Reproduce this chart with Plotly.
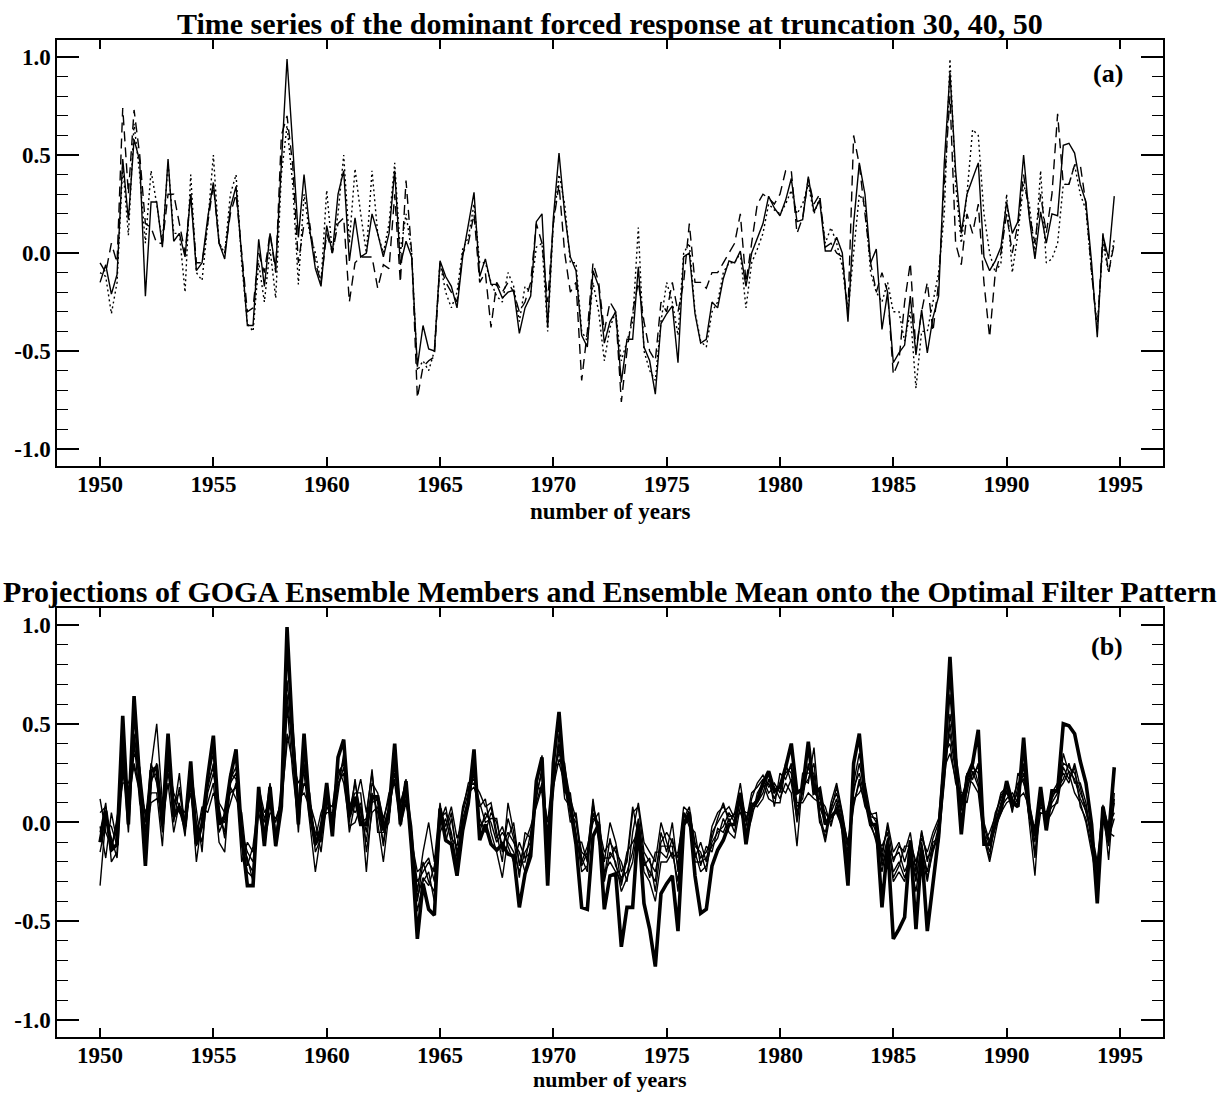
import plotly.graph_objects as go

# ---------------- data (quarterly, 1950.00 .. 1994.75) ----------------
start_year = 1950.0
n_points = 180
years = [start_year + 0.25 * i for i in range(n_points)]

# panel (a): truncation 30 (solid), 40 (dotted), 50 (dashed)
trunc_30 = [
    -0.15, -0.06, -0.21, -0.11, 0.48, 0.17, 0.58, 0.47, -0.22, 0.26,
    0.26, 0.03, 0.48, 0.06, 0.10, -0.02, 0.30, -0.09, -0.05, 0.18,
    0.36, 0.05, -0.03, 0.23, 0.34, -0.02, -0.37, -0.37, 0.07, -0.17,
    0.10, -0.08, 0.47, 0.99, 0.55, 0.08, 0.40, 0.12, -0.08, -0.17,
    0.14, 0.00, 0.30, 0.42, -0.04, 0.18, -0.02, 0.00, 0.20, 0.10,
    -0.02, 0.10, 0.42, -0.06, 0.06, -0.02, -0.58, -0.37, -0.49, -0.50,
    -0.04, -0.12, -0.17, -0.28, -0.02, 0.14, 0.31, -0.12, -0.03, -0.16,
    -0.16, -0.23, -0.20, -0.19, -0.41, -0.28, -0.22, 0.16, 0.20, -0.38,
    0.18, 0.51, 0.20, -0.02, -0.09, -0.42, -0.48, -0.09, -0.17, -0.46,
    -0.35, -0.30, -0.66, -0.44, -0.44, -0.07, -0.48, -0.55, -0.72, -0.36,
    -0.31, -0.27, -0.56, -0.02, 0.00, -0.31, -0.46, -0.44, -0.25, -0.28,
    -0.13, -0.04, -0.05, 0.01, -0.17, 0.00, 0.08, 0.15, 0.29, 0.23,
    0.19, 0.27, 0.38, 0.16, 0.17, 0.39, 0.21, 0.27, 0.01, 0.01,
    0.08, 0.00, -0.35, 0.15, 0.46, 0.30, -0.05, 0.02, -0.39, -0.20,
    -0.56, -0.51, -0.47, -0.22, -0.52, -0.29, -0.51, -0.33, -0.22, 0.46,
    0.92, 0.42, 0.10, 0.30, 0.38, 0.46, -0.02, -0.09, -0.04, 0.03,
    0.26, 0.10, 0.16, 0.50, 0.18, -0.03, 0.21, 0.05, 0.20, 0.19,
    0.55, 0.56, 0.51, 0.35, 0.26, -0.05, -0.43, 0.09, -0.03, 0.29,
]
trunc_40 = [
    -0.10, -0.12, -0.31, -0.15, 0.45, 0.09, 0.66, 0.40, 0.05, 0.42,
    0.25, 0.05, 0.46, 0.10, 0.10, -0.20, 0.40, -0.10, -0.14, 0.15,
    0.50, 0.05, 0.00, 0.30, 0.40, -0.05, -0.36, -0.40, -0.05, -0.25,
    0.02, -0.23, 0.40, 0.65, 0.35, -0.16, 0.30, 0.10, 0.00, -0.15,
    0.32, 0.00, 0.20, 0.50, 0.05, 0.43, 0.20, 0.00, 0.42, 0.10,
    0.00, 0.15, 0.46, 0.00, 0.20, 0.00, -0.60, -0.55, -0.60, -0.50,
    -0.05, -0.20, -0.28, -0.20, 0.02, 0.08, 0.25, -0.05, -0.05, -0.15,
    -0.22, -0.25, -0.10, -0.17, -0.35, -0.17, -0.20, 0.03, 0.05, -0.40,
    0.15, 0.40, 0.25, -0.05, -0.05, -0.40, -0.45, -0.15, -0.30, -0.55,
    -0.38, -0.30, -0.55, -0.45, -0.35, 0.13, -0.50, -0.60, -0.65, -0.35,
    -0.15, -0.25, -0.42, 0.00, 0.05, -0.30, -0.45, -0.48, -0.30, -0.25,
    -0.10, -0.05, -0.05, 0.00, -0.28, -0.05, 0.02, 0.10, 0.25, 0.22,
    0.20, 0.25, 0.32, 0.20, 0.25, 0.35, 0.20, 0.28, 0.05, 0.13,
    0.05, -0.07, -0.30, 0.00, 0.30, 0.25, -0.10, -0.20, -0.25, -0.15,
    -0.30, -0.30, -0.45, -0.30, -0.69, -0.40, -0.40, -0.25, -0.10, 0.20,
    0.99, 0.35, 0.05, 0.30, 0.63, 0.60, 0.20, 0.00, -0.10, -0.05,
    0.30, -0.10, 0.10, 0.35, 0.25, 0.00, 0.42, -0.05, -0.03, 0.05,
    0.35, 0.35, 0.45, 0.30, 0.22, -0.10, -0.38, 0.05, -0.10, 0.07,
]
trunc_50 = [
    -0.05, -0.10, 0.05, -0.05, 0.74, 0.30, 0.73, 0.50, 0.15, 0.13,
    0.05, 0.05, 0.30, 0.30, 0.15, 0.00, 0.30, -0.05, -0.05, 0.15,
    0.35, 0.05, 0.00, 0.20, 0.30, 0.00, -0.30, -0.28, 0.00, -0.10,
    0.10, -0.10, 0.60, 0.70, 0.45, -0.05, 0.15, 0.15, -0.05, -0.15,
    0.10, 0.00, 0.15, 0.18, -0.25, -0.05, -0.02, -0.02, -0.02, -0.18,
    -0.06, -0.08, 0.30, -0.15, 0.37, 0.00, -0.74, -0.58, -0.55, -0.53,
    -0.05, -0.15, -0.20, -0.25, 0.00, 0.05, 0.20, -0.15, -0.10, -0.38,
    -0.15, -0.20, -0.15, -0.20, -0.30, -0.25, -0.15, 0.15, 0.05, -0.25,
    0.15, 0.35, 0.00, -0.20, -0.15, -0.65, -0.40, -0.05, -0.15, -0.40,
    -0.25, -0.30, -0.76, -0.50, -0.30, -0.15, -0.35, -0.50, -0.55, -0.25,
    -0.30, -0.15, -0.30, -0.15, 0.15, -0.15, -0.15, -0.18, -0.10, -0.10,
    -0.05, 0.00, 0.05, 0.20, -0.15, 0.05, 0.25, 0.30, 0.28, 0.25,
    0.30, 0.42, 0.42, 0.10, 0.18, 0.38, 0.25, 0.30, 0.03, 0.05,
    0.00, -0.02, -0.30, 0.60, 0.45, 0.20, -0.05, -0.20, -0.10, -0.20,
    -0.62, -0.55, -0.25, -0.05, -0.50, -0.30, -0.15, -0.40, -0.15, 0.35,
    0.80, 0.05, -0.06, 0.20, 0.10, 0.25, -0.15, -0.43, -0.10, 0.00,
    0.20, 0.00, 0.15, 0.40, 0.20, 0.05, 0.30, 0.10, 0.30, 0.71,
    0.35, 0.35, 0.45, 0.45, 0.25, -0.10, -0.40, 0.10, -0.10, 0.05,
]

# panel (b): ensemble mean (thick) and ensemble members (thin)
ensemble_mean = [
    -0.10, 0.06, -0.14, -0.11, 0.54, -0.01, 0.64, 0.20, -0.22, 0.26,
    0.28, -0.01, 0.45, 0.03, 0.08, -0.02, 0.31, -0.11, -0.01, 0.23,
    0.44, -0.01, 0.03, 0.23, 0.37, -0.07, -0.32, -0.32, 0.18, -0.12,
    0.18, -0.12, 0.08, 0.99, 0.43, -0.01, 0.45, 0.06, -0.11, -0.04,
    0.20, -0.07, 0.33, 0.42, 0.03, 0.13, -0.01, -0.01, 0.13, 0.13,
    -0.04, 0.06, 0.40, -0.01, 0.21, -0.14, -0.59, -0.31, -0.44, -0.47,
    0.07, -0.09, -0.11, -0.27, -0.04, 0.10, 0.37, -0.09, -0.01, -0.11,
    -0.14, -0.11, -0.16, -0.17, -0.43, -0.26, -0.17, 0.21, 0.33, -0.32,
    0.30, 0.56, 0.20, 0.08, -0.11, -0.43, -0.44, -0.07, -0.01, -0.44,
    -0.27, -0.26, -0.63, -0.43, -0.43, -0.01, -0.41, -0.54, -0.73, -0.36,
    -0.31, -0.27, -0.55, -0.01, 0.05, -0.27, -0.46, -0.44, -0.22, -0.14,
    -0.09, -0.01, -0.01, 0.15, -0.11, 0.08, 0.11, 0.20, 0.26, 0.16,
    0.18, 0.28, 0.40, 0.15, 0.17, 0.41, 0.15, 0.17, -0.01, 0.03,
    0.06, -0.01, -0.32, 0.30, 0.45, 0.13, -0.01, -0.01, -0.43, -0.11,
    -0.59, -0.54, -0.48, -0.09, -0.54, -0.14, -0.55, -0.31, -0.07, 0.33,
    0.84, 0.33, -0.06, 0.23, 0.30, 0.47, -0.11, -0.11, -0.01, 0.06,
    0.21, 0.10, 0.08, 0.43, 0.06, -0.07, 0.18, -0.04, 0.16, 0.16,
    0.50, 0.49, 0.45, 0.31, 0.20, -0.01, -0.41, 0.08, -0.07, 0.28,
]
member_1 = [
    -0.05, 0.10, -0.20, -0.15, 0.40, 0.05, 0.45, 0.22, -0.10, 0.20,
    0.30, 0.05, 0.35, 0.10, 0.15, 0.00, 0.25, -0.05, 0.05, 0.18,
    0.30, 0.05, -0.05, 0.20, 0.25, -0.10, -0.25, -0.28, 0.10, -0.05,
    0.12, -0.08, 0.15, 0.72, 0.40, 0.10, 0.30, 0.05, -0.05, -0.10,
    0.15, 0.00, 0.25, 0.30, 0.05, 0.20, 0.05, -0.10, 0.15, 0.05,
    -0.10, 0.10, 0.30, 0.05, 0.15, -0.08, -0.40, -0.20, -0.30, -0.35,
    0.05, -0.05, 0.05, -0.18, 0.02, 0.12, 0.25, -0.05, 0.05, 0.00,
    -0.10, -0.05, -0.10, -0.15, -0.25, -0.15, -0.10, 0.15, 0.25, -0.15,
    0.20, 0.40, 0.25, 0.10, -0.05, -0.25, -0.22, 0.05, -0.05, -0.30,
    -0.15, -0.20, -0.35, -0.28, -0.20, 0.00, -0.25, -0.30, -0.40, -0.20,
    -0.20, -0.15, -0.30, 0.05, 0.00, -0.15, -0.25, -0.22, -0.10, -0.05,
    -0.02, 0.05, 0.00, 0.12, -0.05, 0.08, 0.12, 0.18, 0.20, 0.12,
    0.20, 0.25, 0.28, 0.05, 0.15, 0.28, 0.20, 0.08, 0.00, 0.05,
    0.12, 0.00, -0.20, 0.15, 0.30, 0.15, 0.02, -0.05, -0.20, -0.08,
    -0.30, -0.25, -0.30, -0.15, -0.30, -0.10, -0.28, -0.15, -0.05, 0.25,
    0.65, 0.30, 0.10, 0.20, 0.28, 0.25, -0.05, -0.15, 0.00, 0.10,
    0.15, 0.10, 0.15, 0.25, 0.05, -0.10, 0.12, 0.02, 0.10, 0.15,
    0.30, 0.28, 0.25, 0.15, 0.08, -0.10, -0.25, 0.05, -0.10, 0.10,
]
member_2 = [
    0.12, -0.05, -0.12, 0.00, 0.35, 0.15, 0.38, 0.25, -0.05, 0.28,
    0.50, 0.10, 0.25, 0.05, 0.25, -0.05, 0.20, 0.00, -0.10, 0.15,
    0.25, 0.10, 0.05, 0.15, 0.18, 0.00, -0.20, -0.25, 0.15, 0.02,
    0.08, 0.00, 0.12, 0.55, 0.48, 0.05, 0.20, 0.15, -0.12, 0.00,
    0.05, 0.05, 0.20, 0.25, -0.05, 0.10, 0.22, 0.05, 0.25, 0.00,
    -0.20, 0.05, 0.25, 0.10, 0.20, -0.12, -0.30, -0.25, -0.20, -0.25,
    0.00, 0.08, -0.08, -0.12, 0.08, 0.18, 0.20, 0.15, 0.08, 0.10,
    -0.05, -0.20, 0.10, -0.05, -0.20, -0.20, -0.05, 0.10, 0.20, -0.05,
    0.25, 0.35, 0.30, 0.05, 0.00, -0.15, -0.18, 0.12, -0.10, -0.20,
    0.00, -0.10, -0.25, -0.20, 0.05, 0.08, -0.15, -0.20, -0.25, -0.10,
    -0.05, -0.10, -0.18, 0.08, 0.05, -0.10, -0.18, -0.15, -0.08, 0.02,
    0.10, 0.00, 0.05, 0.20, 0.00, 0.15, 0.18, 0.22, 0.15, 0.18,
    0.12, 0.20, 0.15, -0.12, 0.22, 0.20, 0.38, 0.05, -0.08, 0.10,
    0.20, 0.05, -0.12, 0.10, 0.20, 0.10, 0.05, 0.00, -0.15, -0.02,
    -0.20, -0.12, -0.15, -0.05, -0.25, -0.04, -0.20, -0.08, 0.00, 0.30,
    0.45, 0.25, 0.06, 0.25, 0.22, 0.30, 0.00, -0.10, 0.05, 0.12,
    0.20, 0.05, 0.25, 0.20, 0.10, -0.05, 0.08, 0.05, 0.15, 0.20,
    0.25, 0.20, 0.30, 0.18, 0.05, -0.05, -0.20, 0.09, -0.19, 0.15,
]
member_3 = [
    -0.32, 0.02, -0.08, -0.18, 0.25, 0.10, 0.30, 0.18, 0.05, 0.15,
    0.15, -0.12, 0.30, 0.15, 0.08, 0.05, 0.18, -0.20, 0.02, 0.10,
    0.20, -0.10, -0.15, 0.22, 0.28, -0.05, -0.15, -0.20, 0.05, -0.08,
    0.15, -0.05, 0.05, 0.45, 0.30, 0.20, 0.25, 0.00, -0.25, -0.05,
    0.20, -0.05, 0.15, 0.35, 0.10, 0.05, 0.10, -0.25, 0.10, 0.12,
    0.00, 0.15, 0.20, -0.02, 0.10, -0.05, -0.35, -0.15, 0.00, -0.20,
    0.10, -0.10, 0.02, -0.15, -0.02, 0.10, 0.28, 0.02, -0.05, 0.05,
    0.00, -0.12, -0.05, -0.10, -0.15, -0.25, -0.12, 0.18, 0.34, -0.10,
    0.15, 0.45, 0.15, 0.15, -0.08, -0.20, -0.12, 0.00, 0.05, -0.25,
    -0.20, -0.25, -0.30, -0.15, -0.10, -0.05, -0.20, -0.25, -0.30, -0.05,
    -0.15, 0.00, -0.25, -0.02, 0.02, -0.20, -0.20, -0.18, -0.12, -0.08,
    0.02, -0.05, -0.08, 0.08, 0.05, 0.05, 0.10, 0.15, 0.25, 0.08,
    0.25, 0.22, 0.30, 0.10, 0.10, 0.15, 0.12, 0.10, 0.05, 0.00,
    0.08, -0.05, -0.25, 0.20, 0.35, 0.18, 0.00, -0.10, -0.25, -0.10,
    -0.25, -0.20, -0.28, -0.20, -0.35, -0.15, -0.30, -0.12, -0.10, 0.20,
    0.55, 0.35, 0.15, 0.15, 0.30, 0.20, -0.08, -0.20, -0.05, 0.08,
    0.12, 0.15, 0.10, 0.30, 0.00, -0.27, 0.15, 0.00, 0.05, 0.12,
    0.35, 0.25, 0.15, 0.10, 0.00, -0.15, -0.30, 0.00, -0.05, -0.07,
]
member_4 = [
    -0.02, -0.18, 0.05, -0.10, 0.30, -0.05, 0.42, 0.10, 0.00, 0.30,
    0.20, 0.00, 0.20, -0.05, 0.10, -0.07, 0.28, 0.05, -0.15, 0.22,
    0.35, 0.02, 0.00, 0.10, 0.20, -0.20, -0.10, -0.15, 0.08, 0.00,
    0.20, -0.10, 0.20, 0.65, 0.35, -0.05, 0.35, 0.10, 0.00, -0.15,
    0.10, 0.08, 0.28, 0.20, 0.00, 0.22, 0.00, 0.02, 0.27, -0.05,
    -0.05, 0.00, 0.35, 0.08, 0.22, -0.15, -0.45, -0.30, -0.25, -0.40,
    -0.05, 0.02, -0.10, -0.20, 0.05, 0.15, 0.18, 0.08, 0.12, -0.05,
    -0.15, -0.28, -0.08, 0.00, -0.22, -0.10, -0.02, 0.08, 0.18, 0.00,
    0.28, 0.30, 0.20, 0.00, 0.05, -0.18, -0.25, 0.08, -0.02, -0.15,
    -0.10, -0.15, -0.20, -0.30, -0.05, 0.10, -0.10, -0.15, -0.20, 0.00,
    -0.10, -0.18, -0.15, 0.02, 0.08, -0.12, -0.15, -0.25, -0.05, 0.00,
    0.05, 0.08, 0.02, 0.05, -0.02, 0.12, 0.20, 0.24, 0.18, 0.20,
    0.15, 0.30, 0.20, 0.02, 0.25, 0.25, 0.25, 0.00, -0.05, 0.08,
    0.15, 0.02, -0.10, 0.12, 0.15, 0.20, 0.04, 0.05, -0.18, 0.00,
    -0.15, -0.10, -0.20, -0.10, -0.20, -0.08, -0.15, -0.05, 0.02, 0.35,
    0.40, 0.20, 0.12, 0.22, 0.20, 0.15, -0.10, -0.05, 0.03, 0.15,
    0.18, 0.08, 0.12, 0.15, 0.08, -0.15, 0.05, 0.04, 0.12, 0.18,
    0.22, 0.30, 0.20, 0.20, 0.10, -0.08, -0.22, 0.08, -0.02, 0.05,
]
member_5 = [
    0.05, 0.08, -0.15, 0.02, 0.20, 0.20, 0.28, 0.15, -0.08, 0.10,
    0.12, 0.08, 0.28, 0.12, 0.05, 0.02, 0.15, -0.08, 0.08, 0.05,
    0.15, 0.08, -0.08, 0.18, 0.12, 0.05, -0.22, -0.12, 0.12, -0.10,
    0.05, 0.02, 0.10, 0.40, 0.50, 0.12, 0.15, 0.08, -0.08, 0.05,
    0.12, -0.02, 0.18, 0.28, 0.08, 0.15, 0.15, -0.15, 0.05, 0.08,
    -0.12, 0.08, 0.22, 0.00, 0.12, -0.10, -0.25, -0.22, -0.18, -0.30,
    0.08, -0.02, 0.08, -0.08, 0.00, 0.08, 0.30, -0.02, 0.02, 0.08,
    -0.08, -0.02, -0.12, -0.20, -0.10, -0.18, -0.15, 0.12, 0.28, -0.08,
    0.22, 0.38, 0.12, 0.08, -0.10, -0.10, -0.20, 0.02, 0.00, -0.28,
    -0.08, -0.22, -0.28, -0.25, -0.15, 0.02, -0.18, -0.28, -0.15, -0.15,
    -0.18, -0.08, -0.22, 0.05, -0.02, -0.05, -0.22, -0.12, -0.15, -0.03,
    -0.05, 0.02, -0.05, 0.15, 0.02, 0.10, 0.08, 0.12, 0.22, 0.15,
    0.18, 0.15, 0.22, 0.08, 0.12, 0.30, 0.15, 0.12, 0.08, -0.02,
    0.10, -0.02, -0.18, 0.18, 0.25, 0.12, -0.02, -0.08, -0.12, -0.05,
    -0.28, -0.22, -0.12, -0.12, -0.28, -0.12, -0.25, -0.10, -0.08, 0.22,
    0.50, 0.28, 0.08, 0.18, 0.25, 0.28, -0.02, -0.12, -0.02, 0.05,
    0.10, 0.12, 0.20, 0.22, 0.02, -0.02, 0.10, 0.03, 0.08, 0.10,
    0.28, 0.22, 0.28, 0.08, 0.02, -0.12, -0.28, 0.02, -0.12, 0.12,
]
member_6 = [
    -0.15, 0.00, -0.02, -0.12, 0.32, 0.08, 0.35, 0.28, 0.02, 0.22,
    0.25, -0.05, 0.32, 0.00, 0.18, -0.03, 0.22, -0.12, 0.00, 0.20,
    0.28, -0.05, 0.02, 0.25, 0.22, -0.12, -0.18, -0.30, 0.18, 0.05,
    0.10, -0.12, 0.08, 0.60, 0.25, 0.00, 0.28, 0.12, -0.15, -0.08,
    0.08, 0.03, 0.22, 0.32, -0.02, 0.00, 0.08, -0.05, 0.20, 0.15,
    0.02, 0.12, 0.28, 0.05, 0.18, -0.02, -0.38, -0.28, -0.32, -0.22,
    0.02, 0.05, -0.05, -0.22, 0.06, 0.20, 0.22, 0.10, 0.00, 0.02,
    0.02, -0.15, 0.02, -0.08, -0.28, -0.05, -0.08, 0.20, 0.15, -0.12,
    0.18, 0.32, 0.28, 0.12, 0.02, -0.22, -0.15, 0.10, -0.08, -0.18,
    -0.18, -0.12, -0.32, -0.18, 0.08, -0.08, -0.22, -0.18, -0.35, -0.12,
    -0.12, -0.12, -0.35, 0.00, 0.04, -0.18, -0.10, -0.20, -0.02, 0.05,
    0.08, 0.03, 0.04, 0.10, -0.08, 0.02, 0.15, 0.20, 0.12, 0.10,
    0.10, 0.28, 0.25, 0.00, 0.18, 0.22, 0.30, 0.02, -0.10, 0.06,
    0.18, 0.04, -0.15, 0.08, 0.22, 0.08, 0.03, 0.02, -0.22, -0.12,
    -0.18, -0.15, -0.25, -0.18, -0.22, -0.05, -0.18, -0.14, -0.02, 0.28,
    0.35, 0.22, 0.14, 0.10, 0.26, 0.18, -0.06, -0.18, 0.02, 0.14,
    0.16, 0.06, 0.18, 0.28, 0.06, -0.18, 0.14, -0.02, 0.14, 0.16,
    0.20, 0.26, 0.22, 0.12, 0.06, -0.06, -0.24, 0.06, -0.08, 0.02,
]
members = [member_1, member_2, member_3, member_4, member_5, member_6]

for name, s in [("trunc_30", trunc_30), ("trunc_40", trunc_40), ("trunc_50", trunc_50),
                ("ensemble_mean", ensemble_mean)] + [("m%d" % (k + 1), m) for k, m in enumerate(members)]:
    assert len(s) == n_points, (name, len(s))

x_tick_vals = [1950, 1955, 1960, 1965, 1970, 1975, 1980, 1985, 1990, 1995]
x_tick_text = ["1950", "1955", "1960", "1965", "1970", "1975", "1980", "1985", "1990", "1995"]
y_tick_vals = [-1.0, -0.5, 0.0, 0.5, 1.0]
y_tick_text = ["-1.0", "-0.5", "0.0", "0.5", "1.0"]

title_a = "Time series of the dominant forced response at truncation 30, 40, 50"
title_b = "Projections of GOGA Ensemble Members and Ensemble Mean onto the Optimal Filter Pattern"
x_label = "number of years"

# ---------------- figure ----------------
FONT = "Liberation Serif"
fig = go.Figure()

fig.add_trace(go.Scatter(x=years, y=trunc_40, mode="lines", xaxis="x", yaxis="y",
                         line=dict(color="black", width=1.4, dash="2px,3px")))
fig.add_trace(go.Scatter(x=years, y=trunc_50, mode="lines", xaxis="x", yaxis="y",
                         line=dict(color="black", width=1.4, dash="10px,6px")))
fig.add_trace(go.Scatter(x=years, y=trunc_30, mode="lines", xaxis="x", yaxis="y",
                         line=dict(color="black", width=1.4)))

for m in members:
    fig.add_trace(go.Scatter(x=years, y=m, mode="lines", xaxis="x2", yaxis="y2",
                             line=dict(color="black", width=1.4)))
fig.add_trace(go.Scatter(x=years, y=ensemble_mean, mode="lines", xaxis="x2", yaxis="y2",
                         line=dict(color="black", width=3.6)))

xr = [1948.1, 1996.9]
yr = [-1.087, 1.087]
tickfont = dict(family=FONT, size=23, color="black", weight="bold")

def xaxis(anchor):
    return dict(range=xr, anchor=anchor, tickmode="array", tickvals=x_tick_vals, ticktext=x_tick_text,
                ticks="inside", ticklen=9, tickwidth=1.5, tickcolor="black",
                showline=True, linecolor="black", linewidth=1.5, mirror="ticks",
                showgrid=False, zeroline=False, tickfont=tickfont, ticklabelstandoff=-3)

def yaxis(anchor, domain):
    return dict(range=yr, anchor=anchor, domain=domain, tickmode="array",
                tickvals=y_tick_vals, ticktext=y_tick_text,
                ticks="inside", ticklen=22, tickwidth=1.5, tickcolor="black",
                minor=dict(dtick=0.1, tick0=0, ticks="inside", ticklen=11, tickwidth=1.2,
                           tickcolor="black", showgrid=False),
                showline=True, linecolor="black", linewidth=1.5, mirror="ticks",
                showgrid=False, zeroline=False, tickfont=tickfont)

fig.update_layout(
    width=1225, height=1093,
    margin=dict(l=57, r=62, t=40, b=56),
    paper_bgcolor="white", plot_bgcolor="white",
    showlegend=False,
    xaxis=xaxis("y"),
    yaxis=yaxis("x", [0.5727, 1.0]),
    xaxis2=xaxis("y2"),
    yaxis2=yaxis("x2", [0.0, 0.4303]),
)

def ann(text, x, y, size, xanchor="center", xref="paper", yref="paper", yanchor="middle"):
    fig.add_annotation(text=text, x=x, y=y, xref=xref, yref=yref, showarrow=False,
                       xanchor=xanchor, yanchor=yanchor, borderpad=0,
                       font=dict(family=FONT, size=size, color="black", weight="bold"))

ann(title_a, 0.5, 1.017, 30)
ann(title_b, 0.5, 0.4473, 30)
ann(x_label, 0.5, 0.5266, 23)
ann(x_label, 0.5, -0.0562, 22, yanchor="bottom")
ann("(a)", 0.965, 0.9225, 26, xanchor="right", xref="x domain", yref="y domain")
ann("(b)", 0.965, 0.911, 26, xanchor="right", xref="x2 domain", yref="y2 domain")

fig.write_html("out.html")
